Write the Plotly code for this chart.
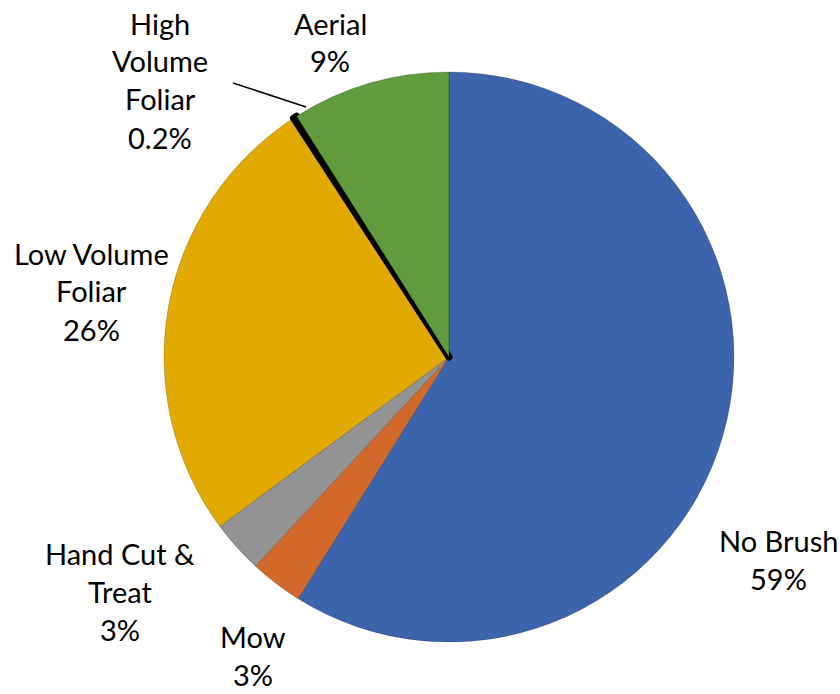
import plotly.graph_objects as go

# Brush treatment methods, clockwise from 12 o'clock
labels = ["No Brush", "Mow", "Hand Cut & Treat", "Low Volume Foliar",
          "High Volume Foliar", "Aerial"]
values = [59, 3, 3, 26, 0.2, 9]
colors = ["#3C64AC", "#D2692A", "#939393", "#E2AA00", "#E2AA00", "#629B3E"]
# How each name is broken over lines in its callout
name_lines = [["No Brush"], ["Mow"], ["Hand Cut &", "Treat"], ["Low Volume", "Foliar"],
              ["High", "Volume", "Foliar"], ["Aerial"]]

W, H = 840, 694
cx, cy, r = 449, 357, 285

line_w = [0.8, 0.8, 0.8, 0.8, 7, 0.8]
line_c = ["rgba(0,0,0,0.25)"] * 4 + ["#000000", "rgba(0,0,0,0.25)"]

fig = go.Figure(go.Pie(
    labels=labels, values=values, sort=False, direction="clockwise", rotation=0,
    marker=dict(colors=colors, line=dict(color=line_c, width=line_w)),
    textinfo="none", hoverinfo="label+value", showlegend=False,
    domain=dict(x=[(cx - r) / W, (cx + r) / W], y=[1 - (cy + r) / H, 1 - (cy - r) / H]),
))

# Callout anchor (center x, first line center y) in pixels
anchors = [(778, 540), (253, 636), (120, 553), (91, 253), (160, 23), (330, 23)]
pitch = 38
font = dict(family="Lato, Carlito, sans-serif", size=29, color="#000000")

annotations = []
for names, v, (ax, ay) in zip(name_lines, values, anchors):
    pct = f"{v:.1f}%" if v < 1 else f"{v:.0f}%"
    for i, t in enumerate(names + [pct]):
        annotations.append(dict(
            x=ax / W, y=1 - (ay + i * pitch) / H, xref="paper", yref="paper",
            text=t, showarrow=False, xanchor="center", yanchor="middle", font=font,
        ))

fig.update_layout(
    width=W, height=H, margin=dict(l=0, r=0, t=0, b=0),
    paper_bgcolor="white", plot_bgcolor="white",
    annotations=annotations,
    shapes=[dict(type="line", xref="paper", yref="paper",
                 x0=233 / W, y0=1 - 83 / H, x1=306 / W, y1=1 - 107 / H,
                 line=dict(color="#000000", width=1.5))],
)

fig.write_html("out.html")
